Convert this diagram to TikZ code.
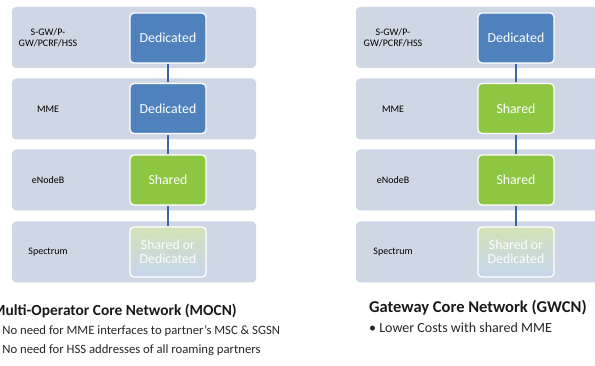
\documentclass[tikz,border=0pt]{standalone}
\usepackage{fontspec}
\setmainfont{Carlito}
\definecolor{bandgray}{HTML}{CFD7E5}
\definecolor{dedblue}{HTML}{4F81BD}
\definecolor{shgreen}{HTML}{8DC641}
\definecolor{linkblue}{HTML}{3A67A2}
\definecolor{mixtop}{HTML}{D2E2B6}
\definecolor{mixbot}{HTML}{C6D4EE}
\tikzset{
  band/.style={fill=bandgray, rounded corners=4pt, minimum width=244pt, minimum height=61pt, inner sep=0pt},
  layerlabel/.style={align=center, font=\fontsize{10}{10.5}\selectfont, text=black},
  layerbox/.style={draw=white, line width=1.3pt, rounded corners=4pt, minimum width=76pt, minimum height=50pt,
    inner sep=0pt, align=center, text=white, font=\fontsize{13.8}{14.5}\selectfont},
  dedicated/.style={layerbox, fill=dedblue},
  shared/.style={layerbox, fill=shgreen},
  mixed/.style={layerbox, top color=mixtop, bottom color=mixbot, text=white!95!mixbot},
  link/.style={draw=linkblue, line width=1.5pt, shorten >=0.7pt, shorten <=0.7pt},
  heading/.style={anchor=base west, inner sep=0pt, font=\fontsize{15.4}{18}\selectfont\bfseries, text=black!90},
  point/.style={anchor=base west, inner sep=0pt, font=\fontsize{12.7}{14}\selectfont, text=black!85}
}
\begin{document}
\begin{tikzpicture}[x=1pt,y=-1pt]
\clip (0,0) rectangle (595,366);
% layer bands with their labels
\foreach \y/\lbl [count=\i] in {37.5/{S-GW/P-\\GW/PCRF/HSS}, 109/{MME}, 180/{eNodeB}, 252/{Spectrum}}
{
	\node[band] (lband\i) at (134,\y) {};
	\node[layerlabel] (llabel\i) at (48,\y) {\lbl};
	\node[band] (rband\i) at (478,\y) {};
	\node[layerlabel] (rlabel\i) at (393,\y) {\lbl};
}
% MOCN
\node[dedicated] (lbox1) at (168,38) {Dedicated};
\node[dedicated] (lbox2) at (168,108.5) {Dedicated};
\node[shared] (lbox3) at (168,180) {Shared};
\node[mixed] (lbox4) at (168,252) {Shared or\\Dedicated};
% GWCN
\node[dedicated] (rbox1) at (516,38) {Dedicated};
\node[shared] (rbox2) at (516,108.5) {Shared};
\node[shared] (rbox3) at (516,180) {Shared};
\node[mixed] (rbox4) at (516,252) {Shared or\\Dedicated};
\foreach \a/\b in {1/2,2/3,3/4}
{
	\draw[link] (lbox\a) -- (lbox\b);
	\draw[link] (rbox\a) -- (rbox\b);
}
\node[heading] (mocn) at (-8,316) {Multi-Operator Core Network (MOCN)};
\node[point] (mocn1) at (-7,335) {• No need for MME interfaces to partner’s MSC \& SGSN};
\node[point] (mocn2) at (-7,353.5) {• No need for HSS addresses of all roaming partners};
\node[heading, font=\fontsize{16.5}{18}\selectfont\bfseries] (gwcn) at (369,313) {Gateway Core Network (GWCN)};
\node[point, font=\fontsize{14}{16}\selectfont] (gwcn1) at (369,333) {• Lower Costs with shared MME};
\end{tikzpicture}
\end{document}
